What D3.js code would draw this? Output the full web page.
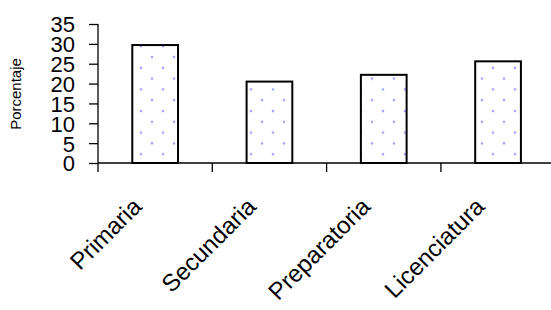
<!DOCTYPE html>
<html>
<head>
  <meta charset='utf-8'>
  <title>Porcentaje por escolaridad</title>
  <style>
    body { margin: 0; background: #fff; }
    text { font-family: "Liberation Sans", Arial, sans-serif; }
  </style>
</head>
<body>
  <div id="chart"></div>
<script src="https://d3js.org/d3.v7.min.js"></script>
<script>
  // data
  var categories = ["Primaria", "Secundaria", "Preparatoria", "Licenciatura"];
  var values = [29.7, 20.5, 22.2, 25.6];
  var yTicks = [0, 5, 10, 15, 20, 25, 30, 35];

  var W = 551, H = 310;
  var plotLeft = 98, plotBottom = 163, plotTop = 24;
  var band = 114.3;

  var svg = d3.select("#chart").append("svg")
    .attr("width", W)
    .attr("height", H);

  // dotted fill like the original
  var pat = svg.append("defs").append("pattern")
    .attr("id", "dots")
    .attr("patternUnits", "userSpaceOnUse")
    .attr("width", 22)
    .attr("height", 21.6);
  pat.append("rect").attr("width", 22).attr("height", 21.6).attr("fill", "#fff");
  pat.append("circle").attr("cx", 9).attr("cy", 3).attr("r", 1.3).attr("fill", "#a4a4ff");
  pat.append("circle").attr("cx", 20).attr("cy", 13.8).attr("r", 1.3).attr("fill", "#a4a4ff");

  var x = d3.scaleBand()
    .domain(categories)
    .range([plotLeft, plotLeft + band * categories.length])
    .paddingInner(0.6)
    .paddingOuter(0.3);

  var y = d3.scaleLinear()
    .domain([0, 35])
    .range([plotBottom, plotTop]);

  // y axis
  var yAxis = svg.append("g")
    .attr("transform", "translate(" + plotLeft + ",0)")
    .call(d3.axisLeft(y).tickValues(yTicks).tickSize(9).tickPadding(14));
  yAxis.select(".domain").attr("d", "M0," + plotTop + "V" + plotBottom).attr("stroke", "#000").attr("stroke-width", 1.3);
  yAxis.selectAll(".tick line").attr("stroke", "#000").attr("stroke-width", 1.3);
  yAxis.selectAll(".tick text")
    .attr("fill", "#000")
    .style("font-family", "'Liberation Sans', Arial, sans-serif")
    .style("font-size", "22px")
    .attr("dy", "0.36em");

  // bars
  svg.append("g").selectAll("rect")
    .data(values)
    .join("rect")
    .attr("x", function (d, i) { return x(categories[i]); })
    .attr("y", function (d) { return y(d); })
    .attr("width", x.bandwidth())
    .attr("height", function (d) { return plotBottom - y(d); })
    .attr("fill", "url(#dots)")
    .attr("stroke", "#000")
    .attr("stroke-width", 2);

  // x axis: ticks between categories
  var xAxis = svg.append("g");
  xAxis.append("line")
    .attr("x1", plotLeft).attr("x2", plotLeft + band * categories.length)
    .attr("y1", plotBottom).attr("y2", plotBottom)
    .attr("stroke", "#000").attr("stroke-width", 1.3);
  xAxis.selectAll("line.sep")
    .data(d3.range(categories.length + 1))
    .join("line")
    .attr("class", "sep")
    .attr("x1", function (i) { return plotLeft + band * i; })
    .attr("x2", function (i) { return plotLeft + band * i; })
    .attr("y1", plotBottom).attr("y2", plotBottom + 9)
    .attr("stroke", "#000").attr("stroke-width", 1.3);

  xAxis.selectAll("text")
    .data(categories)
    .join("text")
    .attr("text-anchor", "end")
    .attr("transform", function (d) {
      return "translate(" + (x(d) + x.bandwidth() / 2 - 12) + "," + (plotBottom + 45) + ") rotate(-45)";
    })
    .style("font-size", "24px")
    .text(function (d) { return d; });

  // y axis title
  svg.append("text")
    .attr("text-anchor", "middle")
    .attr("transform", "translate(21,94) rotate(-90)")
    .style("font-size", "15px")
    .text("Porcentaje");
</script>
</body>
</html>
